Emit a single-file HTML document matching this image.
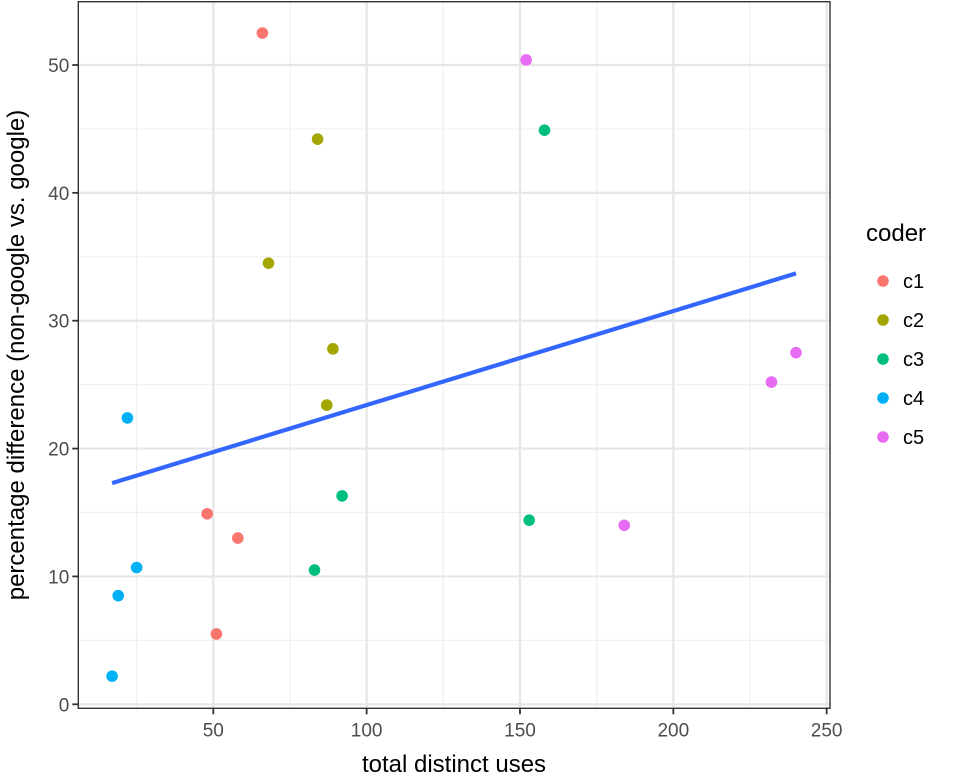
<!DOCTYPE html>
<html><head><meta charset="utf-8"><style>
body{margin:0;background:#fff;}
svg text{font-family:"Liberation Sans",Arial,sans-serif;}
</style></head><body>
<svg id="chart" width="968" height="776" xmlns="http://www.w3.org/2000/svg">
<g id="grid"></g>
<g id="marks"></g>
<rect x="78.3" y="1.7" width="751.7" height="706.6" fill="none" stroke="#333" stroke-width="1.4"/>
<g id="axes"></g>
<text x="454" y="772" font-size="24" text-anchor="middle" fill="#000">total distinct uses</text>
<text transform="translate(24,355) rotate(-90)" font-size="24" text-anchor="middle" fill="#000">percentage difference (non-google vs. google)</text>
<g id="legend">
<text x="866" y="241" font-size="24" fill="#000">coder</text>
</g>
</svg>
<script>
const coders=["c1","c2","c3","c4","c5"];
const colors=["#F8766D","#A3A500","#00BF7D","#00B0F6","#E76BF3"];
const xVals=[66,48,58,51, 84,68,89,87, 158,92,83,153, 22,25,19,17, 152,240,232,184];
const yVals=[52.5,14.9,13,5.5, 44.2,34.5,27.8,23.4, 44.9,16.3,10.5,14.4, 22.4,10.7,8.5,2.2, 50.4,27.5,25.2,14];
const groups=[0,0,0,0, 1,1,1,1, 2,2,2,2, 3,3,3,3, 4,4,4,4];
const xTicks=[50,100,150,200,250];
const yTicks=[0,10,20,30,40,50];
const xMinor=[25,75,125,175,225];
const yMinor=[5,15,25,35,45];
const fitX=[17,240];
const fitY=[17.3,33.7];
const NS="http://www.w3.org/2000/svg";
const L=78.3,R=830,T=1.7,B=708.3;
function sx(v){return 213.3+(v-50)*3.0668;}
function sy(v){return 704.3-v*12.786;}
function mk(t,a,p){const e=document.createElementNS(NS,t);for(const k in a)e.setAttribute(k,a[k]);p.appendChild(e);return e;}
const grid=document.getElementById('grid'),marks=document.getElementById('marks'),axes=document.getElementById('axes'),legend=document.getElementById('legend');
mk('rect',{x:L,y:T,width:R-L,height:B-T,fill:'#fff'},grid);
xMinor.forEach(v=>{const e=mk('line',{x1:sx(v),x2:sx(v),y1:T,y2:B,stroke:'#f0f0f0','stroke-width':1.2},grid);

});
yMinor.forEach(v=>{const e=mk('line',{x1:L,x2:R,y1:sy(v),y2:sy(v),stroke:'#f0f0f0','stroke-width':1.2},grid);

});
xTicks.forEach(v=>{const e=mk('line',{x1:sx(v),x2:sx(v),y1:T,y2:B,stroke:'#e6e6e6','stroke-width':2.2},grid);


const t=mk('line',{x1:sx(v),x2:sx(v),y1:B,y2:B+6,stroke:'#333','stroke-width':1.8},axes);


const l=mk('text',{x:sx(v),y:B+28,'font-size':19,'text-anchor':'middle',fill:'#4d4d4d'},axes);l.textContent=v;

});
yTicks.forEach(v=>{const e=mk('line',{x1:L,x2:R,y1:sy(v),y2:sy(v),stroke:'#e6e6e6','stroke-width':2.2},grid);


const t=mk('line',{x1:L-6,x2:L,y1:sy(v),y2:sy(v),stroke:'#333','stroke-width':1.8},axes);


const l=mk('text',{x:L-9,y:sy(v)+7,'font-size':19,'text-anchor':'end',fill:'#4d4d4d'},axes);l.textContent=v;

});
xVals.forEach((x,i)=>{const c=mk('circle',{cx:sx(x),cy:sy(yVals[i]),r:5.8,fill:colors[groups[i]]},marks);

});
const ln=mk('line',{x1:sx(fitX[0]),y1:sy(fitY[0]),x2:sx(fitX[1]),y2:sy(fitY[1]),stroke:'#3366FF','stroke-width':4.2},marks);


coders.forEach((c,i)=>{const y=281+i*39;
const d=mk('circle',{cx:883,cy:y,r:5.8,fill:colors[i]},legend);


const t=mk('text',{x:903,y:y+7,'font-size':20,fill:'#000'},legend);t.textContent=c;

});
</script>
</body></html>
